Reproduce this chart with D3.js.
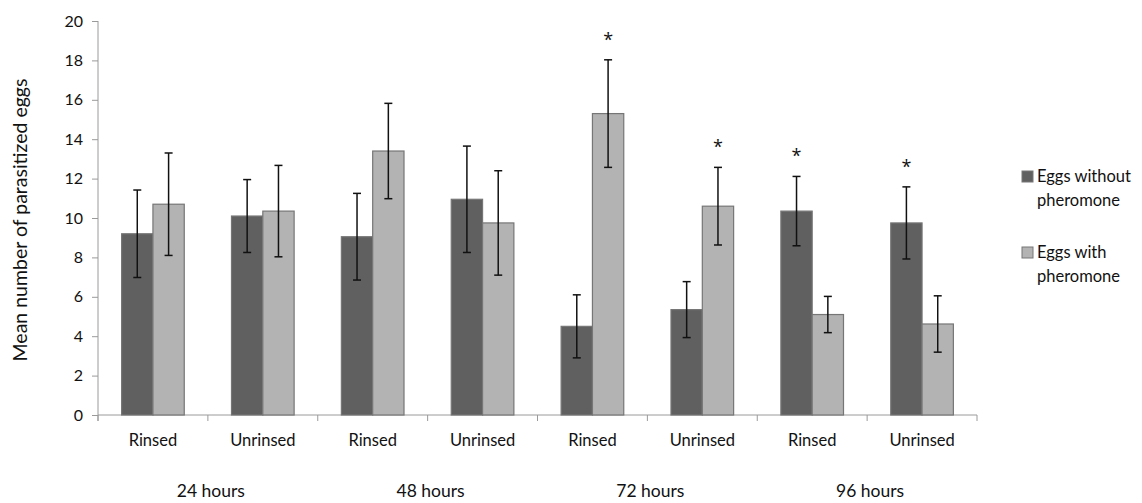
<!DOCTYPE html>
<html>
<head>
<meta charset="utf-8">
<script src="https://cdn.jsdelivr.net/npm/d3@7"></script>
<style>
  body { margin: 0; background: #fff; }
  svg text { font-family: Lato, "Open Sans", sans-serif; fill: #111; }
</style>
</head>
<body>
<svg id="chart" width="1142" height="503"></svg>
<script>
// categories (rinse treatment) and time groups
var categories = ["Rinsed", "Unrinsed", "Rinsed", "Unrinsed", "Rinsed", "Unrinsed", "Rinsed", "Unrinsed"];
var groups = ["24 hours", "48 hours", "72 hours", "96 hours"];
var seriesNames = ["Eggs without pheromone", "Eggs with pheromone"];

// mean values
var withoutPheromone = [9.2, 10.1, 9.05, 10.95, 4.5, 5.35, 10.35, 9.75];
var withPheromone = [10.7, 10.35, 13.4, 9.75, 15.3, 10.6, 5.1, 4.62];

// standard errors (half length of the error bars)
var withoutErr = [2.22, 1.85, 2.2, 2.7, 1.6, 1.42, 1.76, 1.83];
var withErr = [2.6, 2.32, 2.42, 2.65, 2.73, 1.97, 0.92, 1.43];

// significance markers (true = asterisk above bar)
var withoutSig = [false, false, false, false, false, false, true, true];
var withSig = [false, false, false, false, true, true, false, false];

var yTicks = [0, 2, 4, 6, 8, 10, 12, 14, 16, 18, 20];

var svg = d3.select("#chart"),
    margin = {left: 98, top: 21, right: 165, bottom: 88},
    width = 977 - margin.left,
    height = 415 - margin.top,
    colors = ["#606060", "#b3b3b3"];

var g = svg.append("g").attr("transform", "translate(" + margin.left + "," + margin.top + ")");

var x = d3.scaleBand().domain(d3.range(categories.length)).range([0, width]).paddingInner(0.43).paddingOuter(0.215);
var x1 = d3.scaleBand().domain([0, 1]).range([0, x.bandwidth()]);
var y = d3.scaleLinear().domain([0, 20]).range([height, 0]);

// y axis
var yAxis = g.append("g")
    .call(d3.axisLeft(y).tickValues(yTicks).tickSize(6).tickPadding(9));
yAxis.select(".domain").attr("stroke", "#9a9a9a").attr("d", "M0," + (height + 6) + "V0");
yAxis.selectAll(".tick line").attr("stroke", "#9a9a9a");
yAxis.selectAll(".tick text").attr("font-size", 16).style("font-family", "Lato").attr("fill", "#111");

// x axis baseline with boundary ticks
var step = x.step();
g.append("line")
    .attr("x1", 0).attr("x2", width)
    .attr("y1", height).attr("y2", height)
    .attr("stroke", "#9a9a9a");
g.selectAll(".xtick")
    .data(d3.range(categories.length + 1))
    .enter().append("line")
    .attr("x1", function(d) { return d * width / categories.length; })
    .attr("x2", function(d) { return d * width / categories.length; })
    .attr("y1", height).attr("y2", height + 6)
    .attr("stroke", "#9a9a9a");

// bars data
var rows = categories.map(function(c, i) {
    return [
        {i: i, s: 0, v: withoutPheromone[i], e: withoutErr[i], sig: withoutSig[i]},
        {i: i, s: 1, v: withPheromone[i], e: withErr[i], sig: withSig[i]}
    ];
});
var flat = d3.merge(rows);

g.selectAll(".bar")
    .data(flat)
    .enter().append("rect")
    .attr("class", "bar")
    .attr("x", function(d) { return x(d.i) + x1(d.s); })
    .attr("y", function(d) { return y(d.v); })
    .attr("width", x1.bandwidth())
    .attr("height", function(d) { return height - y(d.v); })
    .attr("fill", function(d) { return colors[d.s]; })
    .attr("stroke", "#767676")
    .attr("stroke-width", 1.2);

// error bars
var err = g.selectAll(".err").data(flat).enter().append("g").attr("class", "err")
    .attr("transform", function(d) { return "translate(" + (x(d.i) + x1(d.s) + x1.bandwidth() / 2) + ",0)"; });
err.append("line")
    .attr("y1", function(d) { return y(d.v + d.e); })
    .attr("y2", function(d) { return y(d.v - d.e); })
    .attr("stroke", "#111").attr("stroke-width", 1.5);
err.append("line")
    .attr("x1", -4).attr("x2", 4)
    .attr("y1", function(d) { return y(d.v + d.e); })
    .attr("y2", function(d) { return y(d.v + d.e); })
    .attr("stroke", "#111").attr("stroke-width", 1.5);
err.append("line")
    .attr("x1", -4).attr("x2", 4)
    .attr("y1", function(d) { return y(d.v - d.e); })
    .attr("y2", function(d) { return y(d.v - d.e); })
    .attr("stroke", "#111").attr("stroke-width", 1.5);

// asterisks
err.filter(function(d) { return d.sig; })
    .append("text")
    .attr("y", function(d) { return y(d.v + d.e) - 14; })
    .attr("text-anchor", "middle")
    .attr("font-size", 18)
    .style("font-family", "'Open Sans'")
    .text("*");

// category labels
g.selectAll(".cat")
    .data(categories)
    .enter().append("text")
    .attr("x", function(d, i) { return x(i) + x.bandwidth() / 2; })
    .attr("y", height + 31)
    .attr("text-anchor", "middle")
    .attr("font-size", 16.5)
    .text(function(d) { return d; });

// group labels
g.selectAll(".grp")
    .data(groups)
    .enter().append("text")
    .attr("x", function(d, i) { return (2 * i + 1) * step + 3; })
    .attr("y", height + 82)
    .attr("text-anchor", "middle")
    .attr("font-size", 17.5)
    .text(function(d) { return d; });

// y axis title
svg.append("text")
    .attr("transform", "translate(27," + (margin.top + height / 2 + 2) + ") rotate(-90)")
    .attr("text-anchor", "middle")
    .attr("font-size", 19.5)
    .text("Mean number of parasitized eggs");

// legend
var legendLines = [["Eggs without", "pheromone"], ["Eggs with", "pheromone"]];
var legend = svg.selectAll(".legend")
    .data(seriesNames)
    .enter().append("g")
    .attr("transform", function(d, i) { return "translate(1022," + (171 + i * 76) + ")"; });
legend.append("rect")
    .attr("width", 11).attr("height", 11)
    .attr("fill", function(d, i) { return colors[i]; })
    .attr("stroke", "#767676");
legend.append("text")
    .attr("x", 15)
    .attr("y", 11)
    .attr("font-size", 16.5)
    .selectAll("tspan")
    .data(function(d, i) { return legendLines[i]; })
    .enter().append("tspan")
    .attr("x", 15)
    .attr("dy", function(d, j) { return j === 0 ? 0 : 23.5; })
    .text(function(d) { return d; });
</script>
</body>
</html>
